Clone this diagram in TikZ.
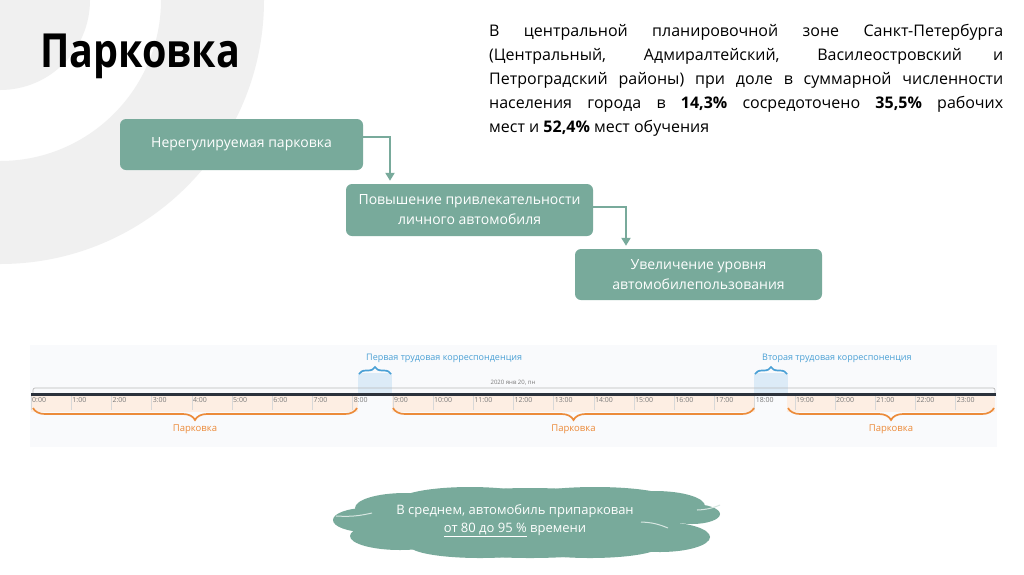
\documentclass[tikz,border=0pt]{standalone}
\usepackage{fontspec}
\setmainfont{Open Sans}
\usetikzlibrary{decorations.pathreplacing,arrows.meta}
\definecolor{boxc}{HTML}{78AA9B}
\definecolor{ringc}{HTML}{F0F0F0}
\definecolor{tlbg}{HTML}{F9FAFC}
\definecolor{peach}{HTML}{FDEEE3}
\definecolor{bluez}{HTML}{DCEBF7}
\definecolor{orangec}{HTML}{EC8B3A}
\definecolor{bluec}{HTML}{4AA0D5}
\definecolor{darkline}{HTML}{2B323C}
\definecolor{tickc}{HTML}{D8D8D8}
\definecolor{hourc}{HTML}{7A7A7A}
\tikzset{
  flowbox/.style={fill=boxc, rounded corners=6pt, text=white, font=\fontsize{14}{20}\selectfont, align=center, inner sep=0pt},
  arr/.style={draw=boxc, line width=2pt, -{Triangle[width=9pt,length=8pt]}, shorten >=3pt},
  hourlbl/.style={anchor=west, inner sep=0pt, text=hourc, font=\fontsize{7}{8}\selectfont},
  parklbl/.style={text=orangec, font=\fontsize{9.5}{11}\selectfont, inner sep=0pt},
  bluelbl/.style={text=bluec, font=\fontsize{9}{11}\selectfont, inner sep=0pt, anchor=west},
  obrace/.style={draw=orangec, line width=1.7pt, decorate, decoration={brace, mirror, amplitude=12pt}},
  bbrace/.style={draw=bluec, line width=1.7pt, decorate, decoration={brace, amplitude=7pt}},
  puff/.style={fill=boxc},
  puffline/.style={draw=white!70!boxc, line width=1pt}
}
\begin{document}
\begin{tikzpicture}[x=1pt,y=-1pt]
\useasboundingbox (0,0) rectangle (1024,574);
\fill[white] (0,0) rectangle (1024,574);
% background rings
\begin{scope}
\clip (0,0) rectangle (1024,574);
\fill[ringc] (0,0) circle[radius=90pt];
\fill[ringc, even odd rule] (0,0) circle[radius=264pt] (0,0) circle[radius=161pt];
\end{scope}
% title
\node[anchor=base west, inner sep=0pt, font=\fontsize{47}{50}\selectfont\bfseries] (title) at (40,67) {\scalebox{0.84}[1]{Парковка}};
% paragraph
\node[anchor=base west, inner sep=0pt, font=\fontsize{16}{24}\selectfont] (para) at (489,36)
{\parbox[t]{514pt}{\tolerance=10000\hbadness=10000
В центральной планировочной зоне Санкт-Петербурга\linebreak
(Центральный, Адмиралтейский, Василеостровский и\linebreak
Петроградский районы) при доле в суммарной численности\linebreak
населения города в \textbf{14,3\%} сосредоточено \textbf{35,5\%} рабочих\linebreak
мест и \textbf{52,4\%} мест обучения}};
% flow boxes
\node[flowbox, minimum width=243pt, minimum height=51pt] (b1) at (241.5,144.5) {Нерегулируемая парковка};
\node[flowbox, minimum width=247pt, minimum height=52pt] (b2) at (469.5,210) {Повышение привлекательности\\личного автомобиля};
\node[flowbox, minimum width=247pt, minimum height=51pt] (b3) at (698.5,274.5) {Увеличение уровня\\автомобилепользования};
\coordinate (k1) at (390,0);
\coordinate (k2) at (626,0);
\draw[arr] ([yshift=7.5pt]b1.east) -| (b2.north -| k1);
\draw[arr] ([yshift=3pt]b2.east) -| (b3.north -| k2);
% timeline
\fill[tlbg] (30,345) rectangle (997,447);
\fill[peach] (31,396) rectangle (358,412);
\fill[peach] (392,396) rectangle (755,412);
\fill[peach] (787,396) rectangle (995,412);
\fill[bluez] (358,373) rectangle (392,395);
\fill[bluez] (754,373) rectangle (788,395);
\draw[gray!55, line width=0.7pt, rounded corners=2pt] (33,393) -- (33,388) -- (995,388) -- (995,393);
\node[inner sep=1pt, fill=tlbg, text=hourc, font=\fontsize{6}{7}\selectfont] (date) at (513,383) {2020 янв 20, пн};
\draw[darkline, line width=3pt] (31,394) -- (996,394);
\foreach \h in {0,...,23}{
  \pgfmathsetmacro{\xx}{31+40.2*\h}
  \draw[tickc, line width=0.6pt] (\xx,396) -- (\xx,410);
  \node[hourlbl] (h\h) at (\xx+1,400.5) {\h:00};
}
\draw[obrace] (33,408) -- (357,408);
\draw[obrace] (393,408) -- (754,408);
\draw[obrace] (788,408) -- (994,408);
\node[parklbl] (p1) at (195,429) {Парковка};
\node[parklbl] (p2) at (573.5,429) {Парковка};
\node[parklbl] (p3) at (891,429) {Парковка};
\draw[bbrace] (359,374) -- (391,374);
\draw[bbrace] (755,374) -- (787,374);
\node[bluelbl] (w1) at (366,358) {Первая трудовая корреспонденция};
\node[bluelbl] (w2) at (762,358) {Вторая трудовая корреспоненция};
% cloud built from puffs
\fill[puff] (530,523) ellipse[x radius=150pt, y radius=35pt];
\fill[puff] (405,508) ellipse[x radius=50pt, y radius=15pt];
\fill[puff] (366,520) ellipse[x radius=33pt, y radius=12pt];
\fill[puff] (400,536) ellipse[x radius=50pt, y radius=14pt];
\fill[puff] (470,501) ellipse[x radius=72pt, y radius=14pt];
\fill[puff] (595,499) ellipse[x radius=75pt, y radius=12pt];
\fill[puff] (655,506) ellipse[x radius=50pt, y radius=15pt];
\fill[puff] (692,514) ellipse[x radius=28pt, y radius=10pt];
\fill[puff] (660,537) ellipse[x radius=50pt, y radius=15pt];
\fill[puff] (480,546) ellipse[x radius=70pt, y radius=12pt];
\fill[puff] (590,546) ellipse[x radius=70pt, y radius=12pt];
\draw[puffline] (336,516) to[bend right=8] (372,513);
\draw[puffline] (641,522) to[bend left=10] (668,528);
\draw[puffline] (697,510) to[bend right=10] (720,505);
\node[text=white, align=center, inner sep=0pt, font=\fontsize{13}{18}\selectfont] (cl) at (515,521)
  {В среднем, автомобиль припаркован\\\underline{от 80 до 95 \%} времени};
\end{tikzpicture}
\end{document}
